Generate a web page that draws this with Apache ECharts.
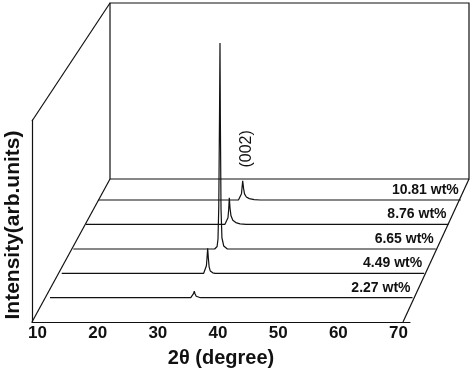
<!DOCTYPE html>
<html>
<head>
<meta charset="utf-8">
<script src="https://cdn.jsdelivr.net/npm/echarts@6/dist/echarts.min.js"></script>
<style>
html,body{margin:0;padding:0;background:#fff;}
#chart{width:474px;height:373px;}
</style>
</head>
<body>
<div id="chart"></div>
<script>
// ---------- data ----------
const samples = ['2.27 wt%', '4.49 wt%', '6.65 wt%', '8.76 wt%', '10.81 wt%'];
const xTicks = [10, 20, 30, 40, 50, 60, 70];
const xTitle = '2\u03b8 (degree)';
const yTitle = 'Intensity(arb.units)';
const peakLabel = '(002)';

// [2theta, intensity (arb. units)]
const trace227 = [[10,0],[33.3,0],[33.6,6],[33.75,16],[33.88,26],[34.0,16],[34.2,6],[34.5,2],[34.9,0],[70,0]];
const trace449 = [[10,0],[33.5,0],[33.8,8],[33.95,30],[34.05,60],[34.16,100],[34.27,62],[34.4,26],[34.6,9],[35.0,2],[35.4,0],[70,0]];
const trace665 = [[10,0],[33.4,0],[33.8,10],[33.95,40],[34.08,170],[34.2,530],[34.28,824],[34.34,520],[34.45,160],[34.6,45],[34.9,12],[35.5,0],[70,0]];
const trace876 = [[10,0],[33.0,0],[33.3,6],[33.5,26],[33.62,60],[33.72,106],[33.84,64],[34.0,34],[34.3,16],[34.8,7],[35.5,2],[36.5,0],[70,0]];
const trace1081 = [[10,0],[33.2,0],[33.5,7],[33.7,28],[33.9,84],[34.05,50],[34.2,27],[34.5,13],[35.0,6],[35.8,2],[36.8,0],[70,0]];
const traces = [trace227, trace449, trace665, trace876, trace1081];

// ---------- layout ----------
const FONT = 'Liberation Sans, Arial, Helvetica, sans-serif';
const INK = '#111';
const FRONT = { left: 32, right: 410, top: 120, base: 322, x10: 37.5, x70: 398.5 };
const PX_PER_DEG_FRONT = (FRONT.x70 - FRONT.x10) / 60;
const TRACE_LEFT = [50, 61.7, 73.3, 86, 98.3];     // pixel of 10 deg on each trace
const TRACE_BASE = [297.7, 273.3, 249, 224.3, 200]; // baseline pixel of each trace
const TRACE_WIDTH = 362.5;                          // pixels for 10..70 deg
const TRACE_H = 220, TRACE_YMAX = 880;
const H = 373;

const grids = [{ left: FRONT.left, top: FRONT.top, width: FRONT.right - FRONT.left, height: FRONT.base - FRONT.top }];
const xAxes = [{
  gridIndex: 0, type: 'value',
  min: 10 - (FRONT.x10 - FRONT.left) / PX_PER_DEG_FRONT,
  max: 70 + (FRONT.right - FRONT.x70) / PX_PER_DEG_FRONT,
  axisLine: { show: true, onZero: false, lineStyle: { color: INK, width: 1.2 } },
  axisTick: { show: false },
  splitLine: { show: false },
  axisLabel: { customValues: xTicks, fontSize: 17, fontWeight: 'bold', color: INK, fontFamily: FONT, margin: 3 },
  name: xTitle, nameLocation: 'middle', nameGap: 26,
  nameTextStyle: { fontSize: 20, fontWeight: 'bold', color: INK, fontFamily: FONT }
}];
const yAxes = [{
  gridIndex: 0, type: 'value', min: 0, max: 1,
  axisLine: { show: true, lineStyle: { color: INK, width: 1.2 } },
  axisTick: { show: false }, axisLabel: { show: false }, splitLine: { show: false }
}];
const series = [];
traces.forEach((tr, k) => {
  const g = k + 1;
  grids.push({ left: TRACE_LEFT[k], width: TRACE_WIDTH, top: TRACE_BASE[k] - TRACE_H, height: TRACE_H });
  xAxes.push({ gridIndex: g, type: 'value', min: 10, max: 70, show: false });
  yAxes.push({ gridIndex: g, type: 'value', min: 0, max: TRACE_YMAX, show: false });
  series.push({
    name: samples[k], type: 'line', xAxisIndex: g, yAxisIndex: g,
    data: tr, symbol: 'none', clip: false, silent: true,
    lineStyle: { color: INK, width: 1.2 }
  });
});

const chart = echarts.init(document.getElementById('chart'), null, { renderer: 'canvas' });
chart.setOption({
  animation: false,
  backgroundColor: '#fff',
  grid: grids, xAxis: xAxes, yAxis: yAxes, series: series
});

// ---------- decorations (pseudo-3D frame) and labels ----------
const L = (x1, y1, x2, y2) => ({ type: 'line', shape: { x1, y1, x2, y2 }, style: { stroke: INK, lineWidth: 1.2 }, silent: true });
const graphic = [
  { type: 'rect', shape: { x: 110, y: 3, width: 359, height: 176 }, style: { fill: 'none', stroke: INK, lineWidth: 1.2 }, silent: true },
  L(32, 121, 110, 3),
  L(32, 322, 110, 179),
  L(403, 322, 469, 179)
];
samples.forEach((s, k) => {
  const p = chart.convertToPixel({ gridIndex: k + 1 }, [70, 0]);
  graphic.push({
    type: 'text', x: p[0] - 2, y: p[1] - 10,
    style: { text: s, fontSize: 14, fontWeight: 'bold', fill: INK, font: 'bold 14px ' + FONT, align: 'right', verticalAlign: 'middle' }
  });
});
const pk = chart.convertToPixel({ gridIndex: 5 }, [33.9, 84]);
graphic.push({
  type: 'text', x: pk[0] + 3.5, y: pk[1] - 32, rotation: Math.PI / 2,
  style: { text: peakLabel, font: '16px ' + FONT, fill: INK, align: 'center', verticalAlign: 'middle' }
});
graphic.push({
  type: 'text', x: 13, y: 225, rotation: Math.PI / 2,
  style: { text: yTitle, font: 'bold 21px ' + FONT, fill: INK, align: 'center', verticalAlign: 'middle' }
});
chart.setOption({ graphic: graphic });
</script>
</body>
</html>
